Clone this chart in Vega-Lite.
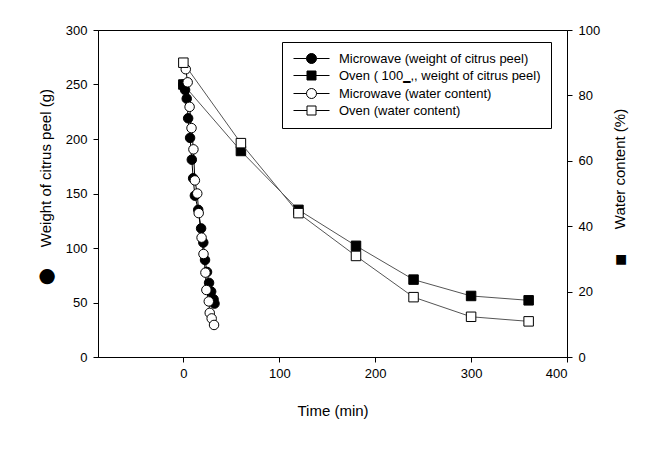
{
  "$schema": "https://vega.github.io/schema/vega-lite/v6.json",
  "width": 469,
  "height": 327,
  "autosize": {"type": "none"},
  "padding": {"left": 98, "top": 30, "right": 101, "bottom": 93},
  "background": "white",
  "config": {
    "font": "Liberation Sans",
    "view": {"stroke": "black", "strokeWidth": 1},
    "axis": {
      "grid": false,
      "domainColor": "black",
      "tickColor": "black",
      "tickSize": 5,
      "labelColor": "black",
      "titleColor": "black",
      "labelFont": "Liberation Sans",
      "titleFont": "Liberation Sans",
      "labelFontSize": 13,
      "titleFontSize": 15,
      "titleFontWeight": "normal"
    },
    "legend": {
      "orient": "none",
      "legendX": 184,
      "legendY": 12,
      "strokeColor": "black",
      "fillColor": "white",
      "padding": 10,
      "labelFont": "Liberation Sans",
      "labelFontSize": 13,
      "labelColor": "black",
      "labelLimit": 400,
      "symbolSize": 100,
      "symbolOffset": 13,
      "labelOffset": 21,
      "rowPadding": 3,
      "symbolStrokeColor": "black",
      "symbolStrokeWidth": 1
    }
  },
  "datasets": {
    "mwW": [
      {"t": 0, "w": 250}, {"t": 1.8, "w": 245}, {"t": 3.5, "w": 237}, {"t": 5, "w": 219},
      {"t": 7, "w": 201}, {"t": 8.8, "w": 181}, {"t": 10.2, "w": 164}, {"t": 12, "w": 148},
      {"t": 15.5, "w": 135}, {"t": 18.5, "w": 118}, {"t": 20.8, "w": 105}, {"t": 22.6, "w": 89},
      {"t": 24.7, "w": 78}, {"t": 26.8, "w": 68}, {"t": 29, "w": 60}, {"t": 31.5, "w": 53},
      {"t": 32.5, "w": 49}
    ],
    "ovW": [
      {"t": 0, "w": 250}, {"t": 60, "w": 189}, {"t": 120, "w": 135}, {"t": 180, "w": 102},
      {"t": 240, "w": 71}, {"t": 300, "w": 56}, {"t": 360, "w": 52}
    ],
    "mwWC": [
      {"t": 2.5, "wc": 88}, {"t": 4.5, "wc": 84}, {"t": 6.5, "wc": 76.5}, {"t": 8.5, "wc": 70},
      {"t": 10.5, "wc": 63.5}, {"t": 12, "wc": 54}, {"t": 14.5, "wc": 50}, {"t": 16, "wc": 44},
      {"t": 19, "wc": 36.5}, {"t": 21, "wc": 31.5}, {"t": 23, "wc": 25.8}, {"t": 24, "wc": 20.5},
      {"t": 26.5, "wc": 17}, {"t": 27.5, "wc": 13.5}, {"t": 29.5, "wc": 11.8}, {"t": 32, "wc": 9.8}
    ],
    "ovWC": [
      {"t": 0, "wc": 90}, {"t": 60, "wc": 65.4}, {"t": 120, "wc": 44}, {"t": 180, "wc": 30.9},
      {"t": 240, "wc": 18.3}, {"t": 300, "wc": 12.3}, {"t": 360, "wc": 10.9}
    ],
    "legendRows": [
      {"label": "Microwave (weight of citrus peel)"},
      {"label": "Oven ( 100\u2017,, weight of citrus peel)"},
      {"label": "Microwave (water content)"},
      {"label": "Oven (water content)"}
    ]
  },
  "encoding": {
    "x": {
      "field": "t",
      "type": "quantitative",
      "scale": {"domain": [-89, 400], "nice": false, "zero": false},
      "axis": {"values": [0, 100, 200, 300, 400], "title": "Time (min)", "labelPadding": 5, "titlePadding": 23}
    }
  },
  "layer": [
    {
      "encoding": {
        "y": {
          "field": "w",
          "type": "quantitative",
          "scale": {"domain": [0, 300], "nice": false},
          "axis": {
            "orient": "left",
            "values": [0, 50, 100, 150, 200, 250, 300],
            "title": "\u2b24\u00a0\u00a0\u00a0\u00a0\u00a0Weight of citrus peel (g)",
            "titleY": 156.5,
            "labelPadding": 6,
            "titlePadding": 12
          }
        }
      },
      "layer": [
        {"data": {"name": "mwW"}, "mark": {"type": "line", "color": "black", "strokeWidth": 1}},
        {"data": {"name": "ovW"}, "mark": {"type": "line", "color": "#555555", "strokeWidth": 1}},
        {"data": {"name": "mwW"}, "mark": {"type": "point", "shape": "circle", "filled": true, "fill": "black", "stroke": "black", "strokeWidth": 1, "size": 90, "opacity": 1}},
        {"data": {"name": "ovW"}, "mark": {"type": "point", "shape": "square", "filled": true, "fill": "black", "stroke": "black", "strokeWidth": 1, "size": 90, "opacity": 1}}
      ]
    },
    {
      "encoding": {
        "y": {
          "field": "wc",
          "type": "quantitative",
          "scale": {"domain": [0, 100], "nice": false},
          "axis": {
            "orient": "right",
            "values": [0, 20, 40, 60, 80, 100],
            "title": "\u25fc\u00a0\u00a0\u00a0\u00a0\u00a0\u00a0Water content (%)",
            "titleAngle": 270,
            "titleBaseline": "top",
            "titleY": 157,
            "labelPadding": 6,
            "titlePadding": 13
          }
        }
      },
      "layer": [
        {"data": {"name": "mwWC"}, "mark": {"type": "line", "color": "black", "strokeWidth": 1}},
        {"data": {"name": "ovWC"}, "mark": {"type": "line", "color": "#555555", "strokeWidth": 1}},
        {"data": {"name": "mwWC"}, "mark": {"type": "point", "shape": "circle", "filled": true, "fill": "white", "stroke": "black", "strokeWidth": 1, "size": 90, "opacity": 1}},
        {"data": {"name": "ovWC"}, "mark": {"type": "point", "shape": "square", "filled": true, "fill": "white", "stroke": "black", "strokeWidth": 1, "size": 90, "opacity": 1}}
      ]
    },
    {
      "data": {"name": "legendRows"},
      "transform": [{"filter": "datum.label == 'none'"}],
      "mark": {"type": "point", "filled": true, "strokeWidth": 1, "opacity": 1},
      "encoding": {
        "x": {"field": "t", "type": "quantitative"},
        "shape": {
          "field": "label",
          "type": "nominal",
          "scale": {
            "domain": ["Microwave (weight of citrus peel)", "Oven ( 100\u2017,, weight of citrus peel)", "Microwave (water content)", "Oven (water content)"],
            "range": [
              "M-3.6,0H-1M1,0H3.6M-1,0A1,1,0,1,0,1,0A1,1,0,1,0,-1,0Z",
              "M-3.6,0H-0.9M0.9,0H3.6M-0.9,-0.9H0.9V0.9H-0.9Z",
              "M-3.6,0H-1M1,0H3.6M-1,0A1,1,0,1,0,1,0A1,1,0,1,0,-1,0Z",
              "M-3.6,0H-0.9M0.9,0H3.6M-0.9,-0.9H0.9V0.9H-0.9Z"
            ]
          },
          "legend": {"title": null}
        },
        "fill": {
          "field": "label",
          "type": "nominal",
          "scale": {
            "domain": ["Microwave (weight of citrus peel)", "Oven ( 100\u2017,, weight of citrus peel)", "Microwave (water content)", "Oven (water content)"],
            "range": ["black", "black", "white", "white"]
          },
          "legend": {"title": null}
        },
        "stroke": {
          "field": "label",
          "type": "nominal",
          "scale": {
            "domain": ["Microwave (weight of citrus peel)", "Oven ( 100\u2017,, weight of citrus peel)", "Microwave (water content)", "Oven (water content)"],
            "range": ["black", "black", "black", "black"]
          },
          "legend": {"title": null}
        }
      }
    }
  ],
  "resolve": {"scale": {"y": "independent"}}
}
